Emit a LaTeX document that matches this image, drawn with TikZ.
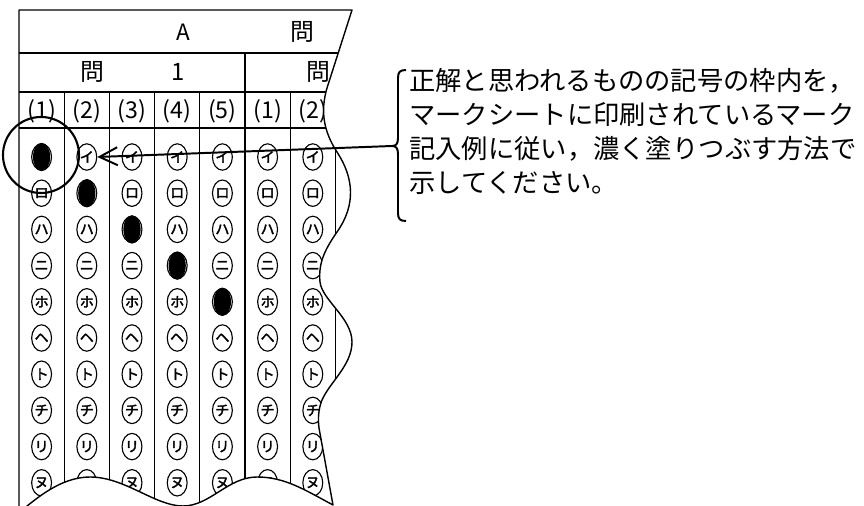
\documentclass[tikz,border=0pt]{standalone}
\usepackage{fontspec}
\newfontfamily\jpfont{Noto Sans CJK JP}
\newfontfamily\kanafont[FakeBold=2.5]{Noto Sans CJK JP}
\usetikzlibrary{arrows.meta,shapes.geometric}

\begin{document}
\begin{tikzpicture}[
  x=0.025cm, y=-0.025cm,
  >={Straight Barb[length=4.5mm,width=4.5mm]},
  grid/.style={line width=0.8pt},
  edge/.style={line width=1pt, line join=round},
  bubble/.style={ellipse, draw, line width=0.8pt, minimum width=0.38cm, minimum height=0.66cm, inner sep=0pt, font=\kanafont\fontsize{10pt}{10pt}\selectfont},
  marked/.style={ellipse, fill=black, minimum width=0.43cm, minimum height=0.71cm, inner sep=0pt},
  head/.style={font=\jpfont\fontsize{17pt}{17pt}\selectfont, inner sep=0pt},
  num/.style={font=\jpfont\fontsize{16.5pt}{16.5pt}\selectfont, inner sep=0pt},
  note/.style={font=\jpfont\fontsize{18.7pt}{24.2pt}\selectfont, align=left, inner sep=0pt},
  ring/.style={circle, draw, line width=1.5pt, minimum size=1.9cm, inner sep=0pt},
  lead/.style={line width=1.4pt}
]
\def\sheetedge{(19,10) -- (352,10) -- (327,88)
  .. controls (320,112) and (324,132) .. (337,152)
  .. controls (354,178) and (356,205) .. (337,232)
  .. controls (326,248) and (318,262) .. (320,282)
  .. controls (322,300) and (352,318) .. (352,342)
  .. controls (352,365) and (330,382) .. (322,400)
  .. controls (318,410) and (318,420) .. (319,428)
  -- (333,505)
  .. controls (305,490) and (285,477) .. (257,477)
  .. controls (228,477) and (210,506) .. (183,506)
  .. controls (155,506) and (125,477) .. (90,477)
  .. controls (60,477) and (35,500) .. (22,510)
  -- (19,510) -- cycle}
\useasboundingbox (0,0) rectangle (864,506);

% torn piece of the answer sheet
\begin{scope}
\clip \sheetedge;
\foreach \y in {53,92,128} \draw[grid] (19,\y) -- (360,\y);
\draw[grid] (245,53) -- (245,510);
\foreach \x in {64.2,109.4,154.6,199.8,290.2,335.4} \draw[grid] (\x,92) -- (\x,510);

\node[head, font=\jpfont\fontsize{16pt}{16pt}\selectfont] (hA) at (183,32) {A};
\node[head] (hQ) at (302,32) {問};
\node[head] (q1) at (92,72) {問};
\node[head] (n1) at (178,72) {1};
\node[head] (q2) at (318,72) {問};

\foreach \c/\t in {1/(1),2/(2),3/(3),4/(4),5/(5),6/(1),7/(2)}
  \node[num] (lab-\c) at ({19+45.2*(\c-0.5)},111) {\t};

\foreach \k/\kana in {1/イ,2/ロ,3/ハ,4/ニ,5/ホ,6/ヘ,7/ト,8/チ,9/リ,10/ヌ}
  \foreach \c in {1,...,7}
    \node[bubble] (b-\c-\k) at ({19+45.2*(\c-0.5)},{157+36.2*(\k-1)}) {\kana};

\foreach \c in {1,...,5}
  \node[marked] (m-\c) at (b-\c-\c) {};
\end{scope}
\draw[edge] \sheetedge;

\node[ring] (ring) at (41,155) {};

% explanation with brace and arrow
\coordinate (brace-tip) at (392,146);
\draw[lead] (406,70) .. controls (400,70) and (398,72) .. (398,78) -- (398,138)
  .. controls (398,144) and (396,146) .. (brace-tip)
  .. controls (396,146) and (398,148) .. (398,154) -- (398,213)
  .. controls (398,219) and (400,221) .. (406,221);
\draw[lead,->] (brace-tip) -- (b-2-1.east);

\node[note, anchor=north west] (note) at (409,68)
  {正解と思われるものの記号の枠内を，\\マークシートに印刷されているマーク\\記入例に従い，濃く塗りつぶす方法で\\示してください。};
\end{tikzpicture}
\end{document}
